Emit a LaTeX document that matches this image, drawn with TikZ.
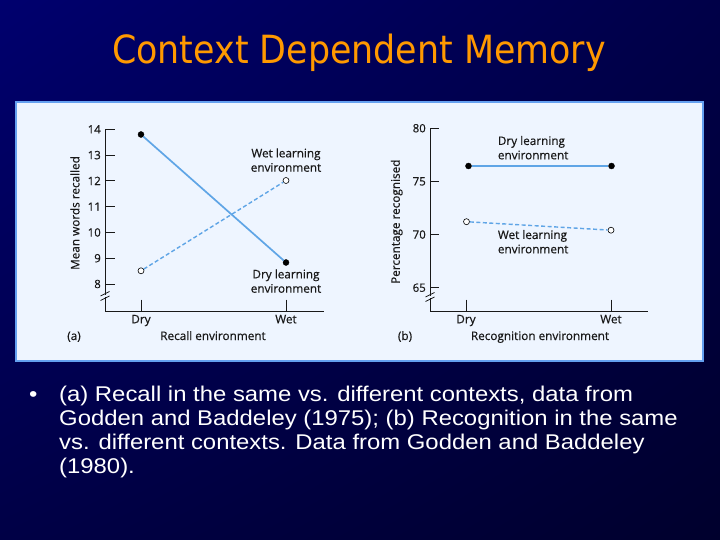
\documentclass[tikz,border=0pt]{standalone}
\usepackage{fontspec}
\usetikzlibrary{shadings}
\setmainfont{Liberation Sans}
\newfontfamily\titlefont[FakeStretch=0.897]{DejaVu Sans}
\newfontfamily\bodyfont[FakeStretch=1.12]{Liberation Sans}
\newfontfamily\chartfont[FakeBold=0.5]{Open Sans}
\definecolor{titleorange}{RGB}{255,153,0}
\definecolor{panelfill}{RGB}{238,245,255}
\definecolor{panelborder}{RGB}{100,160,240}
\definecolor{plotblue}{RGB}{95,165,230}
\definecolor{axisgray}{RGB}{25,25,25}
\definecolor{bgul}{RGB}{0,0,110}
\definecolor{bgur}{RGB}{0,0,72}
\definecolor{bgll}{RGB}{0,0,70}
\definecolor{bglr}{RGB}{0,0,45}
\begin{document}
\begin{tikzpicture}[x=1bp,y=-1bp,
  axline/.style={draw=axisgray,line width=0.9bp},
  ticklab/.style={font=\chartfont\fontsize{11.5}{13}\selectfont,inner sep=0pt,text=axisgray},
  chartlab/.style={font=\chartfont\fontsize{11.8}{14.4}\selectfont,inner sep=0pt,text=axisgray},
  dotfilled/.style={circle,fill=black,draw=black,inner sep=0pt,minimum size=6bp},
  dotopen/.style={circle,fill=white,draw=black,line width=0.6bp,inner sep=0pt,minimum size=6bp},
  solidline/.style={draw=plotblue,line width=1.7bp},
  dashline/.style={draw=plotblue,line width=1.4bp,dash pattern=on 4bp off 2.5bp},
  bodyline/.style={font=\bodyfont\fontsize{21.4}{24}\selectfont,text=white,inner sep=0pt,anchor=base west},
  breakmark/.style={draw=axisgray,line width=0.7bp},
  breakgap/.style={draw=panelfill,line width=2bp}]
\useasboundingbox (0,0) rectangle (720,540);
% background
\shade[upper left=bgul,upper right=bgur,lower left=bgll,lower right=bglr]
  (0,0) rectangle (720,540);
% title
\node[font=\titlefont\fontsize{39}{44}\selectfont,text=titleorange,inner sep=0pt,anchor=base] (title) at (359,63.3) {Context Dependent Memory};
% panel
\draw[draw=panelborder,line width=2bp,fill=panelfill] (16,102) rectangle (703,361);

% ===== chart (a) =====
\draw[axline] (105,129.3) -- (105,311) -- (324,311);
\foreach \v in {8,...,14}{
  \pgfmathsetmacro\yy{284-(\v-8)*25.78}
  \draw[axline] (105,\yy) -- (115,\yy);
  \node[ticklab,anchor=east] (ya\v) at (101,\yy) {\v};
}
\draw[breakgap] (105,294.8) -- (105,297.2);
\draw[breakmark] (100.5,296) -- (109.5,291.5);
\draw[breakmark] (100.5,300.5) -- (109.5,296);
\draw[axline] (141,299.5) -- (141,311);
\draw[axline] (286,299.5) -- (286,311);
\node[chartlab,anchor=base] (xadry) at (141,323.3) {Dry};
\node[chartlab,anchor=base] (xawet) at (286,323.3) {Wet};
\node[chartlab,anchor=base] (alab) at (74,340) {(a)};
\node[chartlab,anchor=base] (axtitle) at (213,340) {Recall environment};
\node[chartlab,rotate=90] (aytitle) at (75,213) {Mean words recalled};
\node[dotfilled] (ad1) at (141,134.5) {};
\node[dotfilled] (ad2) at (286,262.5) {};
\node[dotopen] (aw1) at (141,270.8) {};
\node[dotopen] (aw2) at (286,180.5) {};
\draw[solidline] (ad1) -- (ad2);
\draw[dashline] (aw1) -- (aw2);
\node[chartlab,anchor=base,align=center] (awlab) at (286,171.7) {Wet learning\\environment};
\node[chartlab,anchor=base,align=center] (adlab) at (286,292.7) {Dry learning\\environment};

% ===== chart (b) =====
\draw[axline] (430,128.3) -- (430,311) -- (648,311);
\foreach \v in {65,70,75,80}{
  \pgfmathsetmacro\yy{287.7-(\v-65)*10.63}
  \draw[axline] (430,\yy) -- (439,\yy);
  \node[ticklab,anchor=east] (yb\v) at (426,\yy) {\v};
}
\draw[breakgap] (430,295.8) -- (430,298.2);
\draw[breakmark] (425.5,297) -- (434.5,292.5);
\draw[breakmark] (425.5,301.5) -- (434.5,297);
\draw[axline] (466,299.5) -- (466,311);
\draw[axline] (611,299.5) -- (611,311);
\node[chartlab,anchor=base] (xbdry) at (466,323.3) {Dry};
\node[chartlab,anchor=base] (xbwet) at (611,323.3) {Wet};
\node[chartlab,anchor=base] (blab) at (405,340) {(b)};
\node[chartlab,anchor=base] (bxtitle) at (540,340) {Recognition environment};
\node[chartlab,rotate=90] (bytitle) at (396.7,221.7) {Percentage recognised};
\node[dotfilled] (bd1) at (468.5,166) {};
\node[dotfilled] (bd2) at (611.5,166) {};
\node[dotopen] (bw1) at (466.5,221.7) {};
\node[dotopen] (bw2) at (611,230.2) {};
\draw[solidline] (bd1) -- (bd2);
\draw[dashline] (bw1) -- (bw2);
\node[chartlab,anchor=base west,align=left] (bdlab) at (497.7,159.3) {Dry learning\\environment};
\node[chartlab,anchor=base west,align=left] (bwlab) at (497.7,253.3) {Wet learning\\environment};

% ===== bullet text =====
\node[bodyline] (bullet) at (29,401) {\textbullet};
\node[bodyline] (l1) at (59,401) {(a) Recall in the same vs. different contexts, data from};
\node[bodyline] (l2) at (59,425) {Godden and Baddeley (1975); (b) Recognition in the same};
\node[bodyline] (l3) at (59,449) {vs. different contexts. Data from Godden and Baddeley};
\node[bodyline] (l4) at (59,473) {(1980).};
\end{tikzpicture}
\end{document}
